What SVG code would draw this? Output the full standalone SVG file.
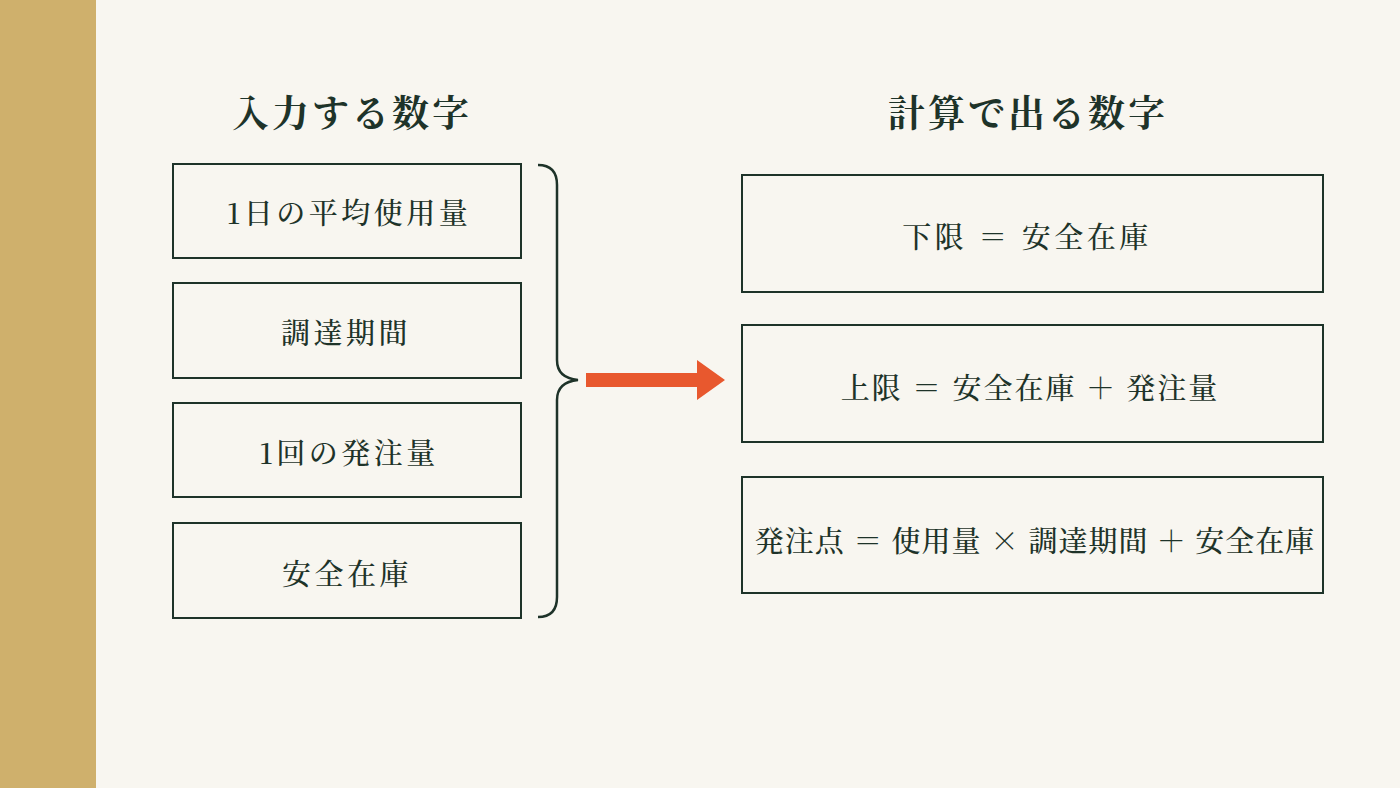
<svg xmlns="http://www.w3.org/2000/svg" width="1400" height="788" viewBox="0 0 1400 788">
<style>
.t{font-family:"Noto Serif CJK JP","Noto Sans CJK JP",serif;fill:#1e3329;text-anchor:middle;dominant-baseline:central}
.h{font-size:37px;font-weight:bold;letter-spacing:3px}
.b{font-size:29px;font-weight:500;letter-spacing:3.5px}
.box{fill:none;stroke:#1e3329;stroke-width:2}
</style>
<rect width="1400" height="788" fill="#f8f6f0"/>
<rect width="96" height="788" fill="#cfb06c"/>
<text class="t h" x="352" y="111">入力する数字</text>
<text class="t h" x="1028" y="111">計算で出る数字</text>
<g id="in1"><rect class="box" x="173" y="164" width="348" height="94"/><text class="t b" x="349" y="211">1日の平均使用量</text></g>
<g id="in2"><rect class="box" x="173" y="283" width="348" height="95"/><text class="t b" x="346" y="331">調達期間</text></g>
<g id="in3"><rect class="box" x="173" y="403" width="348" height="94"/><text class="t b" x="349" y="451">1回の発注量</text></g>
<g id="in4"><rect class="box" x="173" y="523" width="348" height="95"/><text class="t b" x="347" y="572">安全在庫</text></g>
<g id="out1"><rect class="box" x="742" y="175" width="581" height="117"/><text class="t b" x="1027" y="235">下限 ＝ 安全在庫</text></g>
<g id="out2"><rect class="box" x="742" y="325" width="581" height="117"/><text class="t b" x="1030" y="386" style="letter-spacing:2px">上限 ＝ 安全在庫 ＋ 発注量</text></g>
<g id="out3"><rect class="box" x="742" y="477" width="581" height="116"/><text class="t b" x="1035" y="539" style="letter-spacing:1px">発注点 ＝ 使用量 × 調達期間 ＋ 安全在庫</text></g>
<g id="connectors">
<path d="M538 165 Q557 165 557 185 L557 360 Q557 378 578 380 Q557 382 557 400 L557 597 Q557 617 538 617" fill="none" stroke="#1e3329" stroke-width="2.5"/>
<path d="M586 373 L697 373 L697 360 L725 380 L697 400 L697 387 L586 387 Z" fill="#e8582e"/>
</g>
</svg>
